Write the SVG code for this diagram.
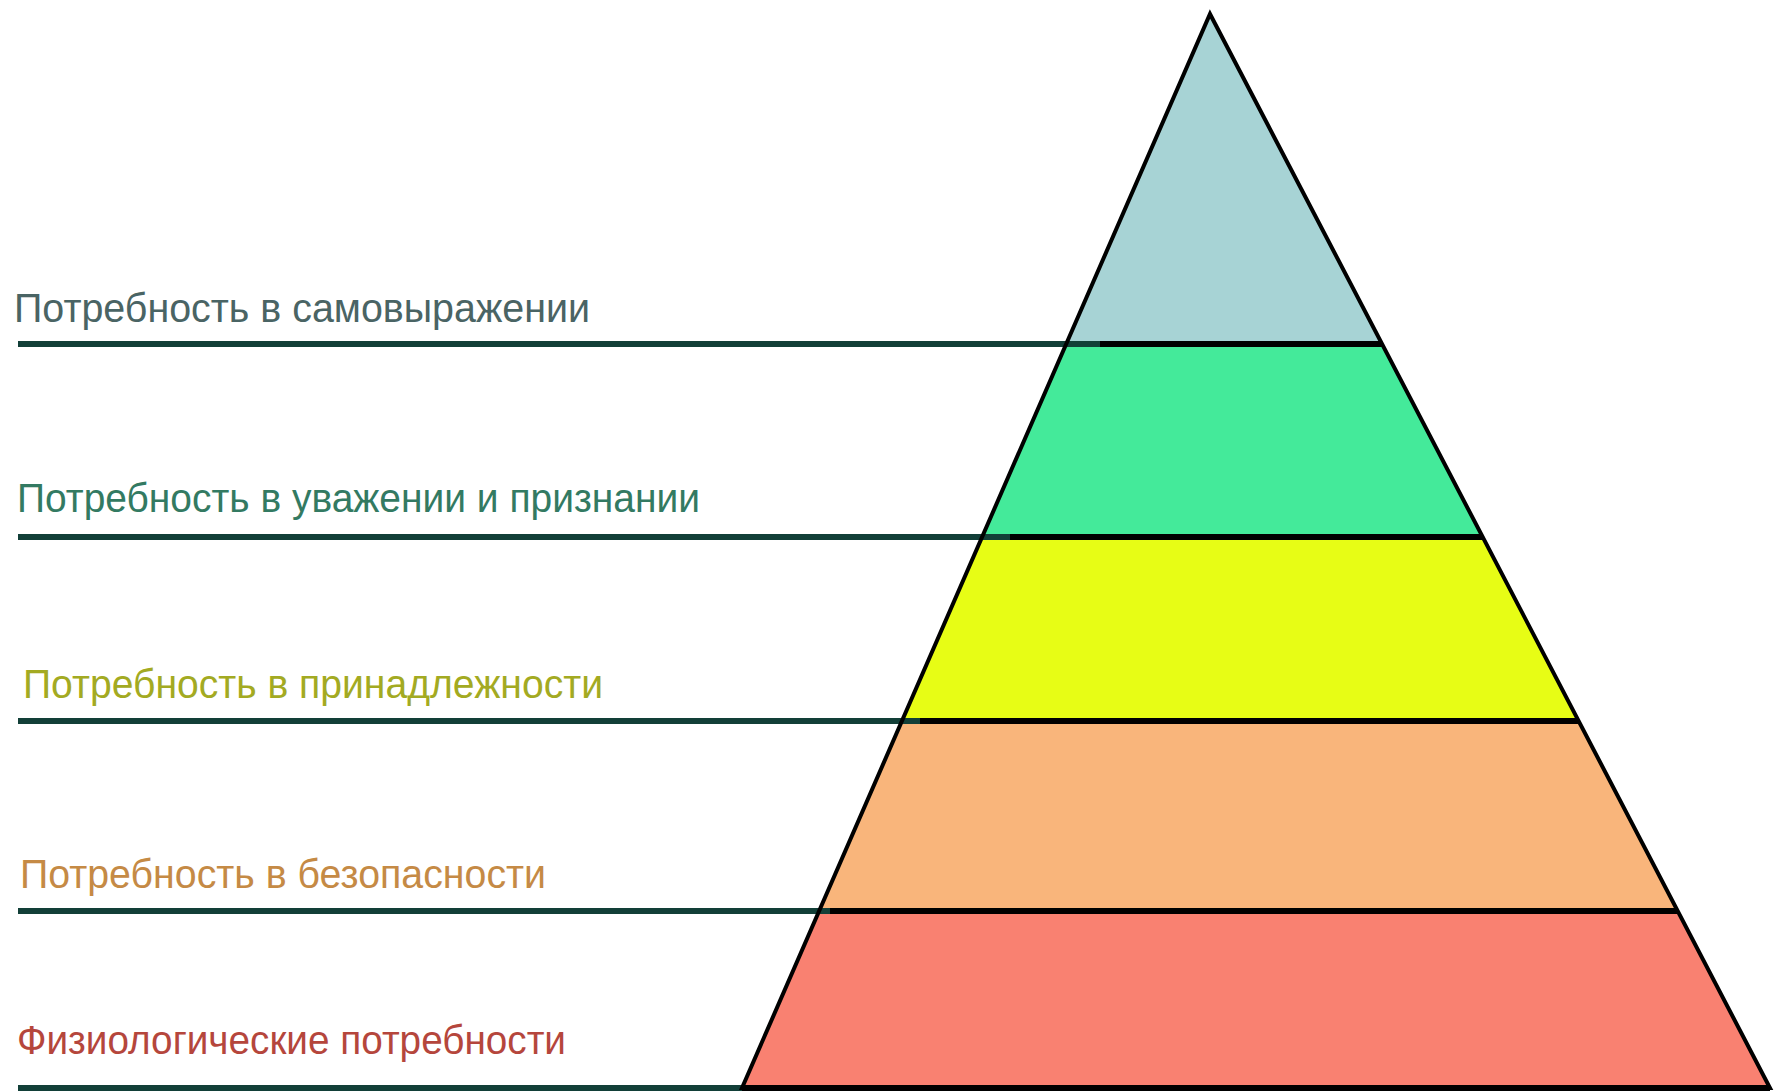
<svg xmlns="http://www.w3.org/2000/svg" width="1785" height="1091" viewBox="0 0 1785 1091">
<style>
.lbl{font-family:"Liberation Sans",Arial,sans-serif;font-size:40px}
.tier{stroke:none}
.lead{stroke:#123f38;stroke-width:6;fill:none}
.div{stroke:#000;stroke-width:6;fill:none}
.edge{stroke:#000;stroke-width:4;fill:none;stroke-linejoin:miter}
</style>
<rect width="1785" height="1091" fill="#fff"/>
<g id="tier5">
<polygon class="tier" points="819,911 1678,911 1770,1088 742,1088" fill="#f98171"/>
<text class="lbl" x="17" y="1054" fill="#b5463c" textLength="549" lengthAdjust="spacingAndGlyphs">Физиологические потребности</text>
</g>
<g id="tier4">
<polygon class="tier" points="902,721 1579,721 1678,911 819,911" fill="#f9b57b"/>
<text class="lbl" x="20" y="888" fill="#c58a45" textLength="526" lengthAdjust="spacingAndGlyphs">Потребность в безопасности</text>
</g>
<g id="tier3">
<polygon class="tier" points="982,537 1483,537 1579,721 902,721" fill="#e7fd15"/>
<text class="lbl" x="23" y="698" fill="#a3aa22" textLength="580" lengthAdjust="spacingAndGlyphs">Потребность в принадлежности</text>
</g>
<g id="tier2">
<polygon class="tier" points="1066,344 1382,344 1483,537 982,537" fill="#44ea9a"/>
<text class="lbl" x="17" y="512" fill="#337a62" textLength="683" lengthAdjust="spacingAndGlyphs">Потребность в уважении и признании</text>
</g>
<g id="tier1">
<polygon class="tier" points="1210,14 1382,344 1066,344" fill="#a7d3d5"/>
<text class="lbl" x="14" y="322" fill="#4a6464" textLength="576" lengthAdjust="spacingAndGlyphs">Потребность в самовыражении</text>
</g>
<g id="connectors">
<line class="lead" x1="18" y1="344" x2="1100" y2="344"/>
<line class="div" x1="1100" y1="344" x2="1382" y2="344"/>
<line class="lead" x1="18" y1="537" x2="1010" y2="537"/>
<line class="div" x1="1010" y1="537" x2="1483" y2="537"/>
<line class="lead" x1="18" y1="721" x2="920" y2="721"/>
<line class="div" x1="920" y1="721" x2="1579" y2="721"/>
<line class="lead" x1="18" y1="911" x2="830" y2="911"/>
<line class="div" x1="830" y1="911" x2="1678" y2="911"/>
<line class="lead" x1="18" y1="1088" x2="742" y2="1088"/>
<line class="div" x1="742" y1="1088" x2="1770" y2="1088"/>
<polygon class="edge" points="1210,14 1770,1088 742,1088"/>
</g>
</svg>
